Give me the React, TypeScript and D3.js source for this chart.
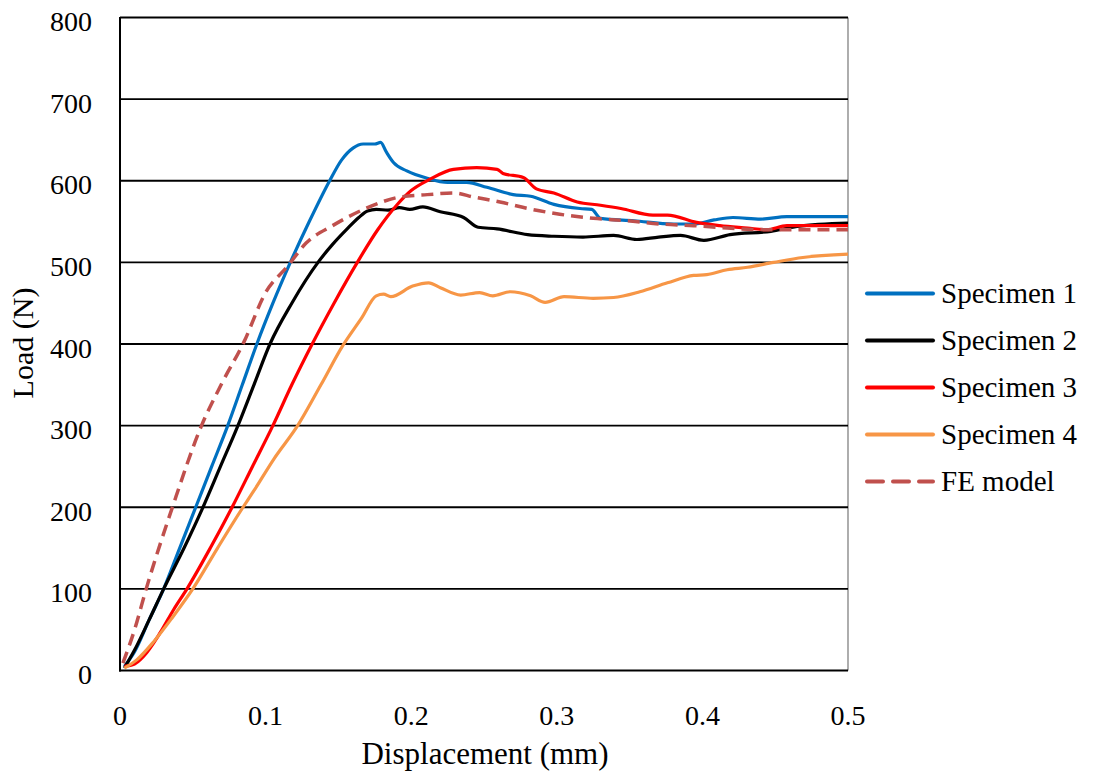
import React from "react";
import * as d3 from "d3";

const xTicks = [0, 0.1, 0.2, 0.3, 0.4, 0.5];
const xTickLabels = ["0", "0.1", "0.2", "0.3", "0.4", "0.5"];
const yTicks = [0, 100, 200, 300, 400, 500, 600, 700, 800];

const specimen1: [number, number][] = [
  [0.003, 5], [0.01, 23], [0.02, 62], [0.03, 100], [0.041, 150], [0.052, 200], [0.063, 250],
  [0.074, 300], [0.084, 350], [0.094, 400], [0.105, 450], [0.117, 500], [0.13, 550], [0.144, 600],
  [0.152, 625], [0.16, 640], [0.167, 645], [0.175, 645], [0.179, 647], [0.183, 635], [0.188, 622],
  [0.197, 612], [0.211, 603], [0.225, 598], [0.238, 598], [0.252, 592], [0.27, 583], [0.282, 581],
  [0.298, 571], [0.316, 566], [0.324, 565], [0.33, 554], [0.353, 551], [0.38, 547], [0.394, 547],
  [0.408, 552], [0.421, 555], [0.44, 553], [0.458, 556], [0.5, 556],
];

const specimen2: [number, number][] = [
  [0.003, 3], [0.01, 25], [0.02, 62], [0.03, 100], [0.044, 150], [0.057, 200], [0.069, 250],
  [0.081, 300], [0.092, 350], [0.103, 400], [0.118, 450], [0.136, 500], [0.146, 522], [0.156, 541],
  [0.164, 555], [0.17, 563], [0.176, 565], [0.184, 564], [0.192, 567], [0.199, 565], [0.208, 568],
  [0.22, 562], [0.236, 555], [0.246, 543], [0.259, 541], [0.28, 534], [0.298, 532], [0.318, 531],
  [0.339, 533], [0.355, 528], [0.37, 531], [0.385, 533], [0.401, 527], [0.419, 534], [0.447, 538],
  [0.465, 544], [0.5, 548],
];

const specimen3: [number, number][] = [
  [0.003, 5], [0.01, 8], [0.016, 17], [0.0275, 46], [0.037, 75], [0.046, 100], [0.062, 150],
  [0.077, 200], [0.091, 250], [0.105, 300], [0.118, 350], [0.132, 400], [0.147, 450], [0.163, 500],
  [0.177, 540], [0.19, 570], [0.2, 588], [0.213, 602], [0.229, 614], [0.245, 616], [0.259, 614],
  [0.263, 609], [0.277, 604], [0.286, 590], [0.298, 585], [0.314, 574], [0.33, 570], [0.344, 566],
  [0.366, 558], [0.376, 558], [0.396, 549], [0.412, 545], [0.431, 542], [0.444, 540], [0.458, 545],
  [0.5, 545],
];

const specimen4: [number, number][] = [
  [0.003, 3], [0.0115, 13], [0.023, 35], [0.036, 65], [0.05, 100], [0.067, 150], [0.0845, 200],
  [0.0915, 219], [0.106, 260], [0.122, 300], [0.138, 350], [0.153, 398], [0.166, 432], [0.176, 459],
  [0.181, 461], [0.186, 458], [0.201, 471], [0.212, 475], [0.22, 469], [0.234, 460], [0.247, 463],
  [0.256, 459], [0.268, 464], [0.282, 459], [0.292, 451], [0.305, 458], [0.325, 456], [0.339, 457],
  [0.357, 464], [0.376, 475], [0.394, 484], [0.403, 485], [0.417, 491], [0.431, 494], [0.449, 500],
  [0.469, 506], [0.5, 510],
];

const feModel: [number, number][] = [
  [0.002, 9], [0.01, 50], [0.018, 100], [0.036, 200], [0.056, 300], [0.07, 352], [0.085, 402],
  [0.1, 463], [0.115, 495], [0.128, 524], [0.146, 545], [0.17, 567], [0.192, 580], [0.211, 583],
  [0.229, 585], [0.243, 580], [0.261, 574], [0.28, 566], [0.302, 559], [0.325, 554], [0.348, 551],
  [0.371, 547], [0.394, 545], [0.417, 542], [0.447, 540], [0.5, 540],
];

const seriesNames = ["Specimen 1", "Specimen 2", "Specimen 3", "Specimen 4", "FE model"];
const seriesData = [specimen1, specimen2, specimen3, specimen4, feModel];
const seriesColors = ["#0070C0", "#000000", "#FF0000", "#F79646", "#C0504D"];
const seriesDashed = [false, false, false, false, true];

const FONT = "'Liberation Serif', 'Times New Roman', serif";

export default function App() {
  const W = 1093;
  const H = 774;
  const left = 120, right = 848, top = 17.5, bottom = 670.5;
  const x = d3.scaleLinear().domain([0, 0.5]).range([left, right]);
  const y = d3.scaleLinear().domain([0, 800]).range([bottom, top]);
  const line = d3
    .line<[number, number]>()
    .x((d) => x(d[0]))
    .y((d) => y(d[1]))
    .curve(d3.curveMonotoneX);

  const legX1 = 867, legX2 = 933, legTextX = 941, legY0 = 293.5, legDy = 47;

  return (
    <svg
      width={W}
      height={H}
      style={{ position: "absolute", left: 0, top: 0, display: "block", background: "#fff" }}
    >
      <rect x={0} y={0} width={W} height={H} fill="#fff" />
      {/* right border */}
      <line x1={right} x2={right} y1={top} y2={bottom} stroke="#777" strokeWidth={1.2} />
      {/* gridlines */}
      {yTicks.filter((t) => t > 0).map((t) => (
        <line key={t} x1={left} x2={right} y1={y(t)} y2={y(t)} stroke="#000" strokeWidth={1.8} />
      ))}
      {/* series */}
      {seriesData.map((d, i) => (
        <path
          key={seriesNames[i]}
          d={line(d) || ""}
          fill="none"
          stroke={seriesColors[i]}
          strokeWidth={seriesDashed[i] ? 3.5 : 3.2}
          strokeDasharray={seriesDashed[i] ? "12,7" : undefined}
          strokeLinejoin="round"
        />
      ))}
      {/* axes */}
      <line x1={left} x2={left} y1={top - 0.5} y2={bottom + 1} stroke="#000" strokeWidth={2} />
      <line x1={left - 1} x2={right} y1={bottom} y2={bottom} stroke="#000" strokeWidth={2.2} />
      {/* y tick labels */}
      {yTicks.map((t) => (
        <text
          key={t}
          x={92}
          y={y(t) + 13.5}
          textAnchor="end"
          fontFamily={FONT}
          fontSize={28}
          fill="#000"
        >
          {t}
        </text>
      ))}
      {/* x tick labels */}
      {xTicks.map((t, i) => (
        <text
          key={t}
          x={x(t)}
          y={725}
          textAnchor="middle"
          fontFamily={FONT}
          fontSize={28}
          fill="#000"
        >
          {xTickLabels[i]}
        </text>
      ))}
      {/* axis titles */}
      <text x={485} y={764} textAnchor="middle" fontFamily={FONT} fontSize={31} fill="#000">
        Displacement (mm)
      </text>
      <text
        transform={`translate(33, 343) rotate(-90)`}
        textAnchor="middle"
        fontFamily={FONT}
        fontSize={30}
        fill="#000"
      >
        Load (N)
      </text>
      {/* legend */}
      {seriesNames.map((n, i) => (
        <g key={n}>
          <line
            x1={legX1}
            x2={legX2}
            y1={legY0 + i * legDy}
            y2={legY0 + i * legDy}
            stroke={seriesColors[i]}
            strokeWidth={4}
            strokeLinecap="round"
            strokeDasharray={seriesDashed[i] ? "16,10" : undefined}
          />
          <text
            x={legTextX}
            y={legY0 + i * legDy + 9.5}
            fontFamily={FONT}
            fontSize={29}
            fill="#000"
          >
            {n}
          </text>
        </g>
      ))}
    </svg>
  );
}
